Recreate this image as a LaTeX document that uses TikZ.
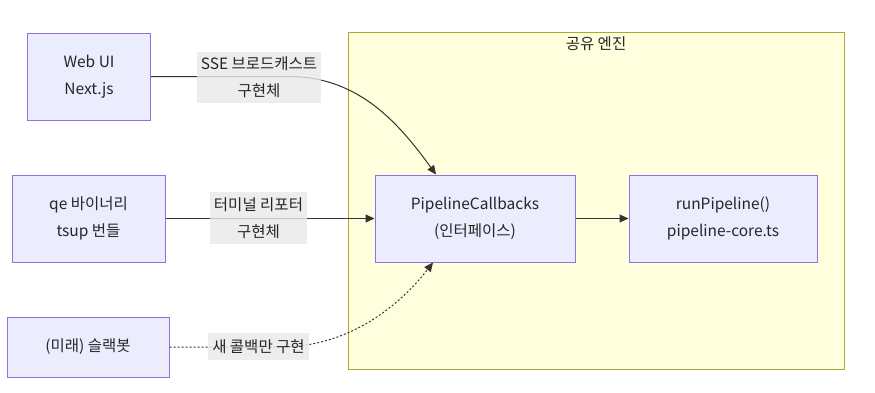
\documentclass[tikz,border=0pt]{standalone}
\usepackage{fontspec}
\setmainfont{Noto Sans CJK KR}
\usetikzlibrary{arrows.meta}
\definecolor{nodefill}{HTML}{ECECFF}
\definecolor{nodeline}{HTML}{9370DB}
\definecolor{clusterfill}{HTML}{FFFFDE}
\definecolor{clusterline}{HTML}{AAAA33}
\definecolor{edgecol}{HTML}{333333}
\definecolor{labelbg}{HTML}{E8E8E8}
\begin{document}
\begin{tikzpicture}[x=1pt,y=-1pt,
  every node/.style={font=\fontsize{15.5}{27}\selectfont, align=center, text=black!85},
  box/.style={draw=nodeline, fill=nodefill, line width=1pt, inner sep=0pt},
  lbl/.style={fill=labelbg, fill opacity=0.8, text opacity=1, inner sep=0pt},
  edge/.style={draw=edgecol, line width=1pt},
  tip/.style={-{Triangle[length=9pt,width=8pt]}}
]
\useasboundingbox (0,0) rectangle (875,392);
% cluster
\draw[draw=clusterline, fill=clusterfill, line width=1pt] (348,32) rectangle (844,369);
\node (title) at (596,44) {공유 엔진};
% nodes
\node[box, minimum width=123pt, minimum height=87pt] (web) at (89,76.5) {Web UI\\Next.js};
\node[box, minimum width=153pt, minimum height=87pt] (qe) at (88.5,218.5) {qe 바이너리\\tsup 번들};
\node[box, minimum width=162pt, minimum height=60pt] (slack) at (88,347) {(미래) 슬랙봇};
\node[box, minimum width=200pt, minimum height=87pt] (pc) at (475,218.5) {PipelineCallbacks\\(인터페이스)};
\node[box, minimum width=188pt, minimum height=87pt] (rp) at (723,218.5) {runPipeline()\\pipeline-core.ts};
% edges
\coordinate (c1) at (290,76.5);
\coordinate (c3) at (280,347);
\draw[edge, tip] (web.east) -- (c1) .. controls (360,77) and (400,125) .. ([xshift=-39pt]pc.north);
\draw[edge, tip] (qe.east) -- (pc.west);
\draw[edge, tip, dash pattern=on 2pt off 2pt] (slack.east) -- (c3) .. controls (350,347) and (400,305) .. ([xshift=-42pt]pc.south);
\draw[edge, tip] (pc.east) -- (rp.west);
% edge labels
\node[lbl, minimum width=124pt, minimum height=51pt] (l1) at (259,77.5) {SSE 브로드캐스트\\구현체};
\node[lbl, minimum width=97pt, minimum height=52pt] (l2) at (258.5,218) {터미널 리포터\\구현체};
\node[lbl, minimum width=101pt, minimum height=27pt] (l3) at (258.5,346.5) {새 콜백만 구현};
\end{tikzpicture}
\end{document}
